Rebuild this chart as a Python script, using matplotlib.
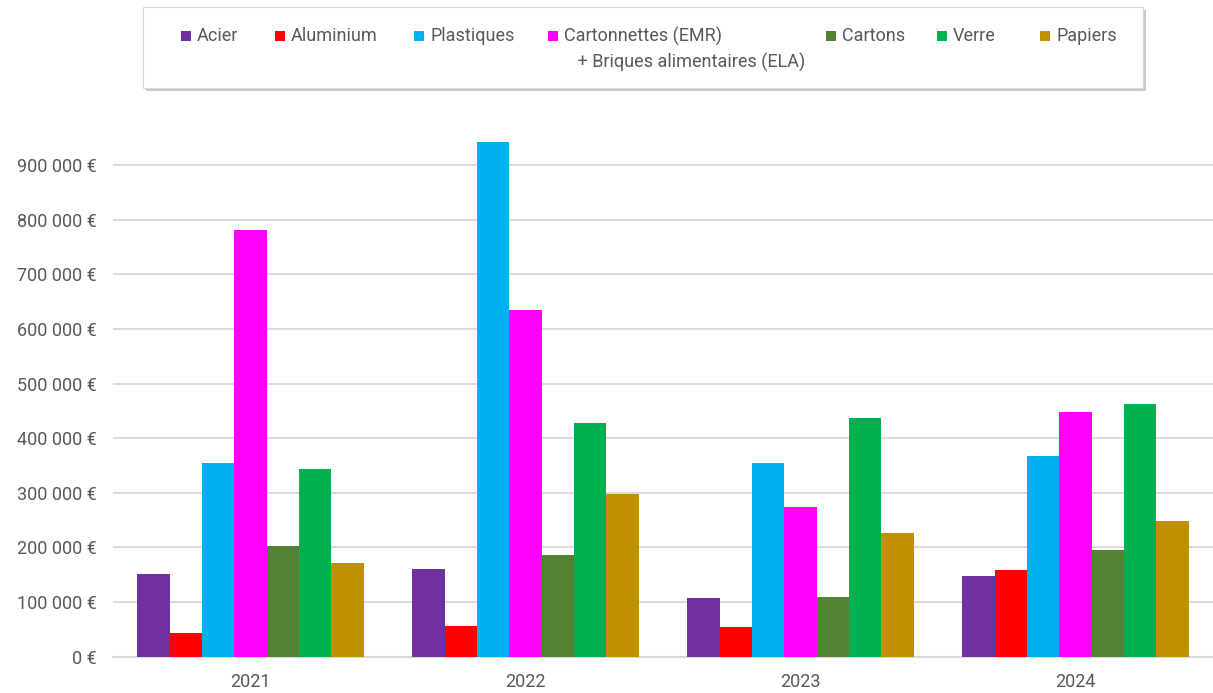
import matplotlib.pyplot as plt
import matplotlib.ticker as ticker
from matplotlib.patches import Rectangle
import numpy as np

years = ['2021', '2022', '2023', '2024']
materials = ['Acier', 'Aluminium', 'Plastiques',
             'Cartonnettes (EMR)\n   + Briques alimentaires (ELA)',
             'Cartons', 'Verre', 'Papiers']
colors = ['#7030A0', '#FF0000', '#00B0F0', '#FF00FF', '#548235', '#00B050', '#BF9000']

acier = [152000, 160000, 107000, 148000]
aluminium = [44000, 56000, 55000, 158000]
plastiques = [355000, 943000, 354000, 368000]
cartonnettes = [781000, 635000, 274000, 449000]
cartons = [203000, 187000, 110000, 195000]
verre = [343000, 428000, 438000, 462000]
papiers = [171000, 298000, 226000, 248000]
series = [acier, aluminium, plastiques, cartonnettes, cartons, verre, papiers]

plt.rcParams['font.family'] = ['Roboto', 'DejaVu Sans']
grey = '#595959'

fig = plt.figure(figsize=(12.13, 6.93), dpi=100)
ax = fig.add_axes([0.0932, 0.0525, 0.9068, 0.772])

x = np.arange(len(years))
w = 0.1177
for i, vals in enumerate(series):
    ax.bar(x + (i - 3) * w, vals, width=w, color=colors[i], zorder=3)

ax.set_xlim(-0.5, 3.5)
ax.set_ylim(0, 980000)
ax.yaxis.set_major_locator(ticker.MultipleLocator(100000))
ax.yaxis.set_major_formatter(ticker.FuncFormatter(
    lambda v, p: '{:,.0f} €'.format(v).replace(',', ' ')))
ax.set_xticks(x)
ax.set_xticklabels(years)
ax.tick_params(axis='both', length=0, labelsize=13, labelcolor=grey)
ax.tick_params(axis='y', pad=12)
ax.tick_params(axis='x', pad=12)
ax.grid(axis='y', color='#d9d9d9', lw=1.3, zorder=0)
for s in ['top', 'right', 'left']:
    ax.spines[s].set_visible(False)
ax.spines['bottom'].set_color('#d9d9d9')
ax.spines['bottom'].set_linewidth(1.5)

# legend box drawn by hand
W, H = 1213.0, 693.0
def fx(px):
    return px / W
def fy(py):
    return 1 - py / H

fig.patches.append(Rectangle((fx(146), fy(91)), fx(1000), 81 / H, transform=fig.transFigure,
                             facecolor='#c9c9c9', edgecolor='none', zorder=1))
fig.patches.append(Rectangle((fx(143), fy(88)), fx(1000), 81 / H, transform=fig.transFigure,
                             facecolor='white', edgecolor='#d9d9d9', lw=0.8, zorder=2))
marker_x = [181, 275, 414, 548, 826, 937, 1040]
for mx, name, c in zip(marker_x, materials, colors):
    fig.patches.append(Rectangle((fx(mx), fy(41)), fx(10), 10 / H, transform=fig.transFigure,
                                 facecolor=c, edgecolor='none', zorder=3))
    fig.text(fx(mx + 16), fy(36), name, fontsize=13, color=grey, va='center',
             ha='left', linespacing=1.45, zorder=4)
# two-line label: keep its first line on the same row as the others
fig.texts[3].set_va('top')
fig.texts[3].set_y(fy(27))

fig.savefig('out.png', dpi=100)
